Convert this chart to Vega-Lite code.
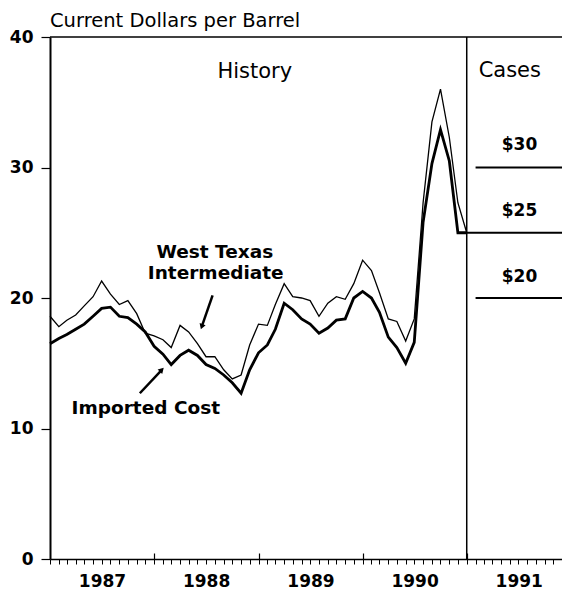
{
  "$schema": "https://vega.github.io/schema/vega-lite/v6.json",
  "width": 512,
  "height": 522,
  "autosize": {"type": "none"},
  "padding": {"left": 50, "top": 37, "right": 0, "bottom": 31},
  "background": "white",
  "config": {"view": {"stroke": null}, "font": "DejaVu Sans"},
  "title": {"text": "Current Dollars per Barrel", "anchor": "start", "frame": "group", "font": "DejaVu Sans", "fontSize": 19.5, "fontWeight": "normal", "color": "black", "offset": -3},
  "datasets": {
    "prices": [
      {"series": "West Texas Intermediate", "date": "1987-01-01", "price": 18.6},
      {"series": "West Texas Intermediate", "date": "1987-02-01", "price": 17.8},
      {"series": "West Texas Intermediate", "date": "1987-03-01", "price": 18.3},
      {"series": "West Texas Intermediate", "date": "1987-04-01", "price": 18.7},
      {"series": "West Texas Intermediate", "date": "1987-05-01", "price": 19.4},
      {"series": "West Texas Intermediate", "date": "1987-06-01", "price": 20.1},
      {"series": "West Texas Intermediate", "date": "1987-07-01", "price": 21.3},
      {"series": "West Texas Intermediate", "date": "1987-08-01", "price": 20.3},
      {"series": "West Texas Intermediate", "date": "1987-09-01", "price": 19.5},
      {"series": "West Texas Intermediate", "date": "1987-10-01", "price": 19.8},
      {"series": "West Texas Intermediate", "date": "1987-11-01", "price": 18.8},
      {"series": "West Texas Intermediate", "date": "1987-12-01", "price": 17.3},
      {"series": "West Texas Intermediate", "date": "1988-01-01", "price": 17.1},
      {"series": "West Texas Intermediate", "date": "1988-02-01", "price": 16.8},
      {"series": "West Texas Intermediate", "date": "1988-03-01", "price": 16.2},
      {"series": "West Texas Intermediate", "date": "1988-04-01", "price": 17.9},
      {"series": "West Texas Intermediate", "date": "1988-05-01", "price": 17.4},
      {"series": "West Texas Intermediate", "date": "1988-06-01", "price": 16.5},
      {"series": "West Texas Intermediate", "date": "1988-07-01", "price": 15.5},
      {"series": "West Texas Intermediate", "date": "1988-08-01", "price": 15.5},
      {"series": "West Texas Intermediate", "date": "1988-09-01", "price": 14.5},
      {"series": "West Texas Intermediate", "date": "1988-10-01", "price": 13.8},
      {"series": "West Texas Intermediate", "date": "1988-11-01", "price": 14.1},
      {"series": "West Texas Intermediate", "date": "1988-12-01", "price": 16.4},
      {"series": "West Texas Intermediate", "date": "1989-01-01", "price": 18.0},
      {"series": "West Texas Intermediate", "date": "1989-02-01", "price": 17.9},
      {"series": "West Texas Intermediate", "date": "1989-03-01", "price": 19.5},
      {"series": "West Texas Intermediate", "date": "1989-04-01", "price": 21.1},
      {"series": "West Texas Intermediate", "date": "1989-05-01", "price": 20.1},
      {"series": "West Texas Intermediate", "date": "1989-06-01", "price": 20.0},
      {"series": "West Texas Intermediate", "date": "1989-07-01", "price": 19.8},
      {"series": "West Texas Intermediate", "date": "1989-08-01", "price": 18.6},
      {"series": "West Texas Intermediate", "date": "1989-09-01", "price": 19.6},
      {"series": "West Texas Intermediate", "date": "1989-10-01", "price": 20.1},
      {"series": "West Texas Intermediate", "date": "1989-11-01", "price": 19.9},
      {"series": "West Texas Intermediate", "date": "1989-12-01", "price": 21.1},
      {"series": "West Texas Intermediate", "date": "1990-01-01", "price": 22.9},
      {"series": "West Texas Intermediate", "date": "1990-02-01", "price": 22.1},
      {"series": "West Texas Intermediate", "date": "1990-03-01", "price": 20.4},
      {"series": "West Texas Intermediate", "date": "1990-04-01", "price": 18.4},
      {"series": "West Texas Intermediate", "date": "1990-05-01", "price": 18.2},
      {"series": "West Texas Intermediate", "date": "1990-06-01", "price": 16.7},
      {"series": "West Texas Intermediate", "date": "1990-07-01", "price": 18.4},
      {"series": "West Texas Intermediate", "date": "1990-08-01", "price": 27.3},
      {"series": "West Texas Intermediate", "date": "1990-09-01", "price": 33.5},
      {"series": "West Texas Intermediate", "date": "1990-10-01", "price": 36.0},
      {"series": "West Texas Intermediate", "date": "1990-11-01", "price": 32.3},
      {"series": "West Texas Intermediate", "date": "1990-12-01", "price": 27.3},
      {"series": "West Texas Intermediate", "date": "1991-01-01", "price": 25.0},
      {"series": "Imported Cost", "date": "1987-01-01", "price": 16.5},
      {"series": "Imported Cost", "date": "1987-02-01", "price": 16.9},
      {"series": "Imported Cost", "date": "1987-03-01", "price": 17.2},
      {"series": "Imported Cost", "date": "1987-04-01", "price": 17.6},
      {"series": "Imported Cost", "date": "1987-05-01", "price": 18.0},
      {"series": "Imported Cost", "date": "1987-06-01", "price": 18.6},
      {"series": "Imported Cost", "date": "1987-07-01", "price": 19.2},
      {"series": "Imported Cost", "date": "1987-08-01", "price": 19.3},
      {"series": "Imported Cost", "date": "1987-09-01", "price": 18.6},
      {"series": "Imported Cost", "date": "1987-10-01", "price": 18.5},
      {"series": "Imported Cost", "date": "1987-11-01", "price": 18.0},
      {"series": "Imported Cost", "date": "1987-12-01", "price": 17.4},
      {"series": "Imported Cost", "date": "1988-01-01", "price": 16.3},
      {"series": "Imported Cost", "date": "1988-02-01", "price": 15.7},
      {"series": "Imported Cost", "date": "1988-03-01", "price": 14.9},
      {"series": "Imported Cost", "date": "1988-04-01", "price": 15.6},
      {"series": "Imported Cost", "date": "1988-05-01", "price": 16.0},
      {"series": "Imported Cost", "date": "1988-06-01", "price": 15.6},
      {"series": "Imported Cost", "date": "1988-07-01", "price": 14.9},
      {"series": "Imported Cost", "date": "1988-08-01", "price": 14.6},
      {"series": "Imported Cost", "date": "1988-09-01", "price": 14.1},
      {"series": "Imported Cost", "date": "1988-10-01", "price": 13.5},
      {"series": "Imported Cost", "date": "1988-11-01", "price": 12.7},
      {"series": "Imported Cost", "date": "1988-12-01", "price": 14.5},
      {"series": "Imported Cost", "date": "1989-01-01", "price": 15.8},
      {"series": "Imported Cost", "date": "1989-02-01", "price": 16.4},
      {"series": "Imported Cost", "date": "1989-03-01", "price": 17.6},
      {"series": "Imported Cost", "date": "1989-04-01", "price": 19.6},
      {"series": "Imported Cost", "date": "1989-05-01", "price": 19.1},
      {"series": "Imported Cost", "date": "1989-06-01", "price": 18.4},
      {"series": "Imported Cost", "date": "1989-07-01", "price": 18.0},
      {"series": "Imported Cost", "date": "1989-08-01", "price": 17.3},
      {"series": "Imported Cost", "date": "1989-09-01", "price": 17.7},
      {"series": "Imported Cost", "date": "1989-10-01", "price": 18.3},
      {"series": "Imported Cost", "date": "1989-11-01", "price": 18.4},
      {"series": "Imported Cost", "date": "1989-12-01", "price": 20.0},
      {"series": "Imported Cost", "date": "1990-01-01", "price": 20.5},
      {"series": "Imported Cost", "date": "1990-02-01", "price": 20.0},
      {"series": "Imported Cost", "date": "1990-03-01", "price": 18.9},
      {"series": "Imported Cost", "date": "1990-04-01", "price": 17.0},
      {"series": "Imported Cost", "date": "1990-05-01", "price": 16.2},
      {"series": "Imported Cost", "date": "1990-06-01", "price": 15.0},
      {"series": "Imported Cost", "date": "1990-07-01", "price": 16.6},
      {"series": "Imported Cost", "date": "1990-08-01", "price": 25.8},
      {"series": "Imported Cost", "date": "1990-09-01", "price": 30.3},
      {"series": "Imported Cost", "date": "1990-10-01", "price": 32.9},
      {"series": "Imported Cost", "date": "1990-11-01", "price": 30.5},
      {"series": "Imported Cost", "date": "1990-12-01", "price": 25.0},
      {"series": "Imported Cost", "date": "1991-01-01", "price": 25.0}
    ],
    "cases": [
      {"case": "$30", "date": "1991-02-01", "price": 30},
      {"case": "$30", "date": "1991-12-01", "price": 30},
      {"case": "$25", "date": "1991-01-01", "price": 25},
      {"case": "$25", "date": "1991-12-01", "price": 25},
      {"case": "$20", "date": "1991-02-01", "price": 20},
      {"case": "$20", "date": "1991-12-01", "price": 20}
    ],
    "headings": [
      {"label": "History", "date": "1988-12-19", "price": 37.3},
      {"label": "Cases", "date": "1991-06-01", "price": 37.4}
    ],
    "seriesLabels": [
      {"label": "West Texas", "date": "1988-08-01", "price": 23.5},
      {"label": "Intermediate", "date": "1988-08-04", "price": 21.9},
      {"label": "Imported Cost", "date": "1987-12-03", "price": 11.6}
    ],
    "caseLabels": [
      {"label": "$30", "date": "1991-07-05", "price": 31.7},
      {"label": "$25", "date": "1991-07-05", "price": 26.7},
      {"label": "$20", "date": "1991-07-05", "price": 21.6}
    ],
    "arrows": [
      {"arrow": "wti", "part": "tail", "date": "1988-07-24", "price": 20.2},
      {"arrow": "wti", "part": "head", "date": "1988-06-16", "price": 17.8},
      {"arrow": "imported", "part": "tail", "date": "1987-11-12", "price": 12.7},
      {"arrow": "imported", "part": "head", "date": "1988-01-28", "price": 14.5}
    ]
  },
  "resolve": {"axis": {"x": "independent"}},
  "layer": [
    {
      "data": {"name": "prices"},
      "mark": {"type": "line", "color": "black", "strokeJoin": "miter"},
      "encoding": {
        "x": {
          "field": "date", "type": "temporal",
          "scale": {"type": "utc", "domain": [{"year": 1987, "month": 1, "date": 1, "utc": true}, {"year": 1991, "month": 12, "date": 1, "utc": true}]},
          "axis": {
            "orient": "bottom",
            "title": null, "grid": false,
            "values": [
              {"year": 1987, "month": 1, "date": 1, "utc": true}, {"year": 1987, "month": 2, "date": 1, "utc": true}, {"year": 1987, "month": 3, "date": 1, "utc": true}, {"year": 1987, "month": 4, "date": 1, "utc": true}, {"year": 1987, "month": 5, "date": 1, "utc": true}, {"year": 1987, "month": 6, "date": 1, "utc": true}, {"year": 1987, "month": 7, "date": 1, "utc": true}, {"year": 1987, "month": 8, "date": 1, "utc": true}, {"year": 1987, "month": 9, "date": 1, "utc": true}, {"year": 1987, "month": 10, "date": 1, "utc": true}, {"year": 1987, "month": 11, "date": 1, "utc": true}, {"year": 1987, "month": 12, "date": 1, "utc": true},
              {"year": 1988, "month": 1, "date": 1, "utc": true}, {"year": 1988, "month": 2, "date": 1, "utc": true}, {"year": 1988, "month": 3, "date": 1, "utc": true}, {"year": 1988, "month": 4, "date": 1, "utc": true}, {"year": 1988, "month": 5, "date": 1, "utc": true}, {"year": 1988, "month": 6, "date": 1, "utc": true}, {"year": 1988, "month": 7, "date": 1, "utc": true}, {"year": 1988, "month": 8, "date": 1, "utc": true}, {"year": 1988, "month": 9, "date": 1, "utc": true}, {"year": 1988, "month": 10, "date": 1, "utc": true}, {"year": 1988, "month": 11, "date": 1, "utc": true}, {"year": 1988, "month": 12, "date": 1, "utc": true},
              {"year": 1989, "month": 1, "date": 1, "utc": true}, {"year": 1989, "month": 2, "date": 1, "utc": true}, {"year": 1989, "month": 3, "date": 1, "utc": true}, {"year": 1989, "month": 4, "date": 1, "utc": true}, {"year": 1989, "month": 5, "date": 1, "utc": true}, {"year": 1989, "month": 6, "date": 1, "utc": true}, {"year": 1989, "month": 7, "date": 1, "utc": true}, {"year": 1989, "month": 8, "date": 1, "utc": true}, {"year": 1989, "month": 9, "date": 1, "utc": true}, {"year": 1989, "month": 10, "date": 1, "utc": true}, {"year": 1989, "month": 11, "date": 1, "utc": true}, {"year": 1989, "month": 12, "date": 1, "utc": true},
              {"year": 1990, "month": 1, "date": 1, "utc": true}, {"year": 1990, "month": 2, "date": 1, "utc": true}, {"year": 1990, "month": 3, "date": 1, "utc": true}, {"year": 1990, "month": 4, "date": 1, "utc": true}, {"year": 1990, "month": 5, "date": 1, "utc": true}, {"year": 1990, "month": 6, "date": 1, "utc": true}, {"year": 1990, "month": 7, "date": 1, "utc": true}, {"year": 1990, "month": 8, "date": 1, "utc": true}, {"year": 1990, "month": 9, "date": 1, "utc": true}, {"year": 1990, "month": 10, "date": 1, "utc": true}, {"year": 1990, "month": 11, "date": 1, "utc": true}, {"year": 1990, "month": 12, "date": 1, "utc": true},
              {"year": 1991, "month": 1, "date": 1, "utc": true}, {"year": 1991, "month": 2, "date": 1, "utc": true}, {"year": 1991, "month": 3, "date": 1, "utc": true}, {"year": 1991, "month": 4, "date": 1, "utc": true}, {"year": 1991, "month": 5, "date": 1, "utc": true}, {"year": 1991, "month": 6, "date": 1, "utc": true}, {"year": 1991, "month": 7, "date": 1, "utc": true}, {"year": 1991, "month": 8, "date": 1, "utc": true}, {"year": 1991, "month": 9, "date": 1, "utc": true}, {"year": 1991, "month": 10, "date": 1, "utc": true}, {"year": 1991, "month": 11, "date": 1, "utc": true}, {"year": 1991, "month": 12, "date": 1, "utc": true}
            ],
            "labelExpr": "utcmonth(datum.value) == 0 ? utcFormat(datum.value, '%Y') : ''",
            "labelOffset": 52, "labelOverlap": false, "labelFlush": false, "labelBound": false,
            "labelFont": "DejaVu Sans", "labelFontWeight": "bold", "labelFontSize": 17, "labelColor": "black", "labelPadding": 9,
            "tickSize": 5, "tickColor": "black", "tickWidth": 1,
            "domainColor": "black", "domainWidth": 1.5
          }
        },
        "y": {
          "field": "price", "type": "quantitative",
          "scale": {"domain": [0, 40], "nice": false, "zero": true},
          "axis": {
            "title": null, "grid": false, "values": [0, 10, 20, 30, 40],
            "labelFont": "DejaVu Sans", "labelFontWeight": "bold", "labelFontSize": 17, "labelColor": "black", "labelPadding": 8, "labelFlush": false,
            "tickSize": 9, "tickColor": "black", "tickWidth": 1.2,
            "domainColor": "black", "domainWidth": 2
          }
        },
        "strokeWidth": {"field": "series", "type": "nominal", "scale": {"domain": ["Imported Cost", "West Texas Intermediate"], "range": [2.8, 1.3]}, "legend": null}
      }
    },
    {
      "data": {"name": "cases"},
      "mark": {"type": "line", "color": "black", "strokeWidth": 1.8},
      "encoding": {
        "x": {
          "field": "date", "type": "temporal",
          "axis": {
            "orient": "bottom", "title": null, "grid": false, "labels": false, "domain": false,
            "values": [{"year": 1988, "month": 1, "date": 1, "utc": true}, {"year": 1989, "month": 1, "date": 1, "utc": true}, {"year": 1990, "month": 1, "date": 1, "utc": true}, {"year": 1991, "month": 1, "date": 1, "utc": true}],
            "tickSize": -6, "tickColor": "black", "tickWidth": 1.2
          }
        },
        "y": {"field": "price", "type": "quantitative"},
        "detail": {"field": "case", "type": "nominal"}
      }
    },
    {
      "data": {"values": [{}]},
      "mark": {"type": "rule", "color": "black", "strokeWidth": 1.5},
      "encoding": {"y": {"datum": 40, "type": "quantitative"}}
    },
    {
      "data": {"values": [{}]},
      "mark": {"type": "rule", "color": "black", "strokeWidth": 1.5},
      "encoding": {"x": {"datum": {"year": 1991, "month": 1, "date": 1, "utc": true}, "type": "temporal", "axis": null}}
    },
    {
      "data": {"name": "headings"},
      "mark": {"type": "text", "font": "DejaVu Sans", "fontSize": 21, "color": "black", "align": "center", "baseline": "middle"},
      "encoding": {
        "x": {"field": "date", "type": "temporal", "axis": null},
        "y": {"field": "price", "type": "quantitative"},
        "text": {"field": "label"}
      }
    },
    {
      "data": {"name": "seriesLabels"},
      "mark": {"type": "text", "font": "DejaVu Sans", "fontWeight": "bold", "fontSize": 18.5, "color": "black", "align": "center", "baseline": "middle"},
      "encoding": {
        "x": {"field": "date", "type": "temporal", "axis": null},
        "y": {"field": "price", "type": "quantitative"},
        "text": {"field": "label"}
      }
    },
    {
      "data": {"name": "caseLabels"},
      "mark": {"type": "text", "font": "DejaVu Sans", "fontWeight": "bold", "fontSize": 17, "color": "black", "align": "center", "baseline": "middle"},
      "encoding": {
        "x": {"field": "date", "type": "temporal", "axis": null},
        "y": {"field": "price", "type": "quantitative"},
        "text": {"field": "label"}
      }
    },
    {
      "data": {"name": "arrows"},
      "mark": {"type": "line", "color": "black", "strokeWidth": 2.5},
      "encoding": {
        "x": {"field": "date", "type": "temporal", "axis": null},
        "y": {"field": "price", "type": "quantitative"},
        "detail": {"field": "arrow", "type": "nominal"}
      }
    },
    {
      "data": {"name": "arrows"},
      "transform": [{"filter": "datum.arrow == 'wti' && datum.part == 'head'"}],
      "mark": {"type": "point", "shape": "triangle-up", "filled": true, "color": "black", "opacity": 1, "size": 40, "angle": 199},
      "encoding": {
        "x": {"field": "date", "type": "temporal", "axis": null},
        "y": {"field": "price", "type": "quantitative"}
      }
    },
    {
      "data": {"name": "arrows"},
      "transform": [{"filter": "datum.arrow == 'imported' && datum.part == 'head'"}],
      "mark": {"type": "point", "shape": "triangle-up", "filled": true, "color": "black", "opacity": 1, "size": 40, "angle": 44},
      "encoding": {
        "x": {"field": "date", "type": "temporal", "axis": null},
        "y": {"field": "price", "type": "quantitative"}
      }
    }
  ]
}
